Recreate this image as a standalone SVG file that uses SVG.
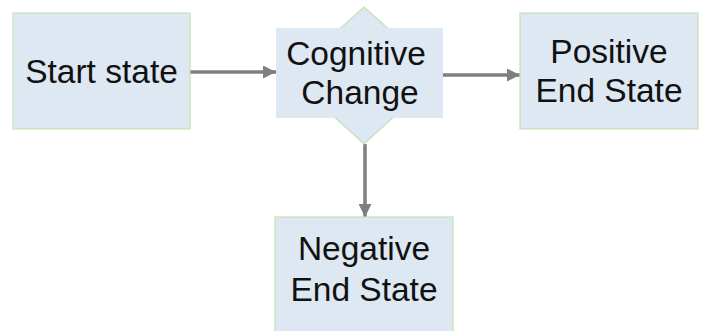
<svg xmlns="http://www.w3.org/2000/svg" width="702" height="331" viewBox="0 0 702 331">
<style>
.box{fill:#dde8f3;stroke:#c6e0b4;stroke-width:1.2}
.lbl{font-family:"Liberation Sans",Arial,sans-serif;font-size:33.5px;fill:#111;text-anchor:middle}
.conn{stroke:#7f7f7f;stroke-width:3.5;fill:none}
</style>
<defs>
<marker id="a" viewBox="0 0 10 10" refX="10" refY="5" markerWidth="14" markerHeight="13" markerUnits="userSpaceOnUse" orient="auto">
<path d="M0,0 L10,5 L0,10 Z" fill="#7f7f7f"/>
</marker>
</defs>
<g id="connectors">
<line class="conn" x1="190" y1="72" x2="276" y2="72" marker-end="url(#a)"/>
<line class="conn" x1="443" y1="75" x2="520" y2="75" marker-end="url(#a)"/>
<line class="conn" x1="365" y1="144" x2="365" y2="217" marker-end="url(#a)"/>
</g>
<g id="start">
<rect class="box" x="13" y="13" width="177" height="116"/>
<text class="lbl" x="101.5" y="83">Start state</text>
</g>
<g id="cognitive">
<polygon class="box" points="364,7 440,75 364,144 288,75"/>
<rect x="276" y="28" width="167" height="90" fill="#dde8f3"/>
<text class="lbl" x="356" y="65">Cognitive</text>
<text class="lbl" x="360" y="104">Change</text>
</g>
<g id="positive">
<rect class="box" x="520" y="13" width="178" height="116"/>
<text class="lbl" x="609" y="63">Positive</text>
<text class="lbl" x="609" y="102">End State</text>
</g>
<g id="negative">
<rect class="box" x="275" y="217" width="178" height="120"/>
<text class="lbl" x="364" y="260">Negative</text>
<text class="lbl" x="364" y="301">End State</text>
</g>
</svg>
